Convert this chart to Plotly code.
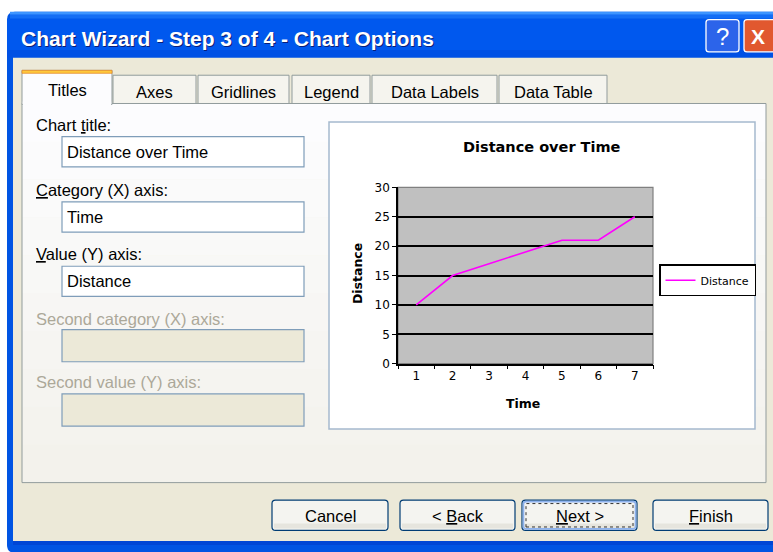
import plotly.graph_objects as go

# ---------------- data ----------------
time_labels = ["1", "2", "3", "4", "5", "6", "7"]
distance = [10, 15, 17, 19, 21, 21, 25]
y_ticks = [0, 5, 10, 15, 20, 25, 30]
series_name = "Distance"
chart_title = "Distance over Time"
x_title = "Time"
y_title = "Distance"

window_title = "Chart Wizard - Step 3 of 4 - Chart Options"
tab_labels = ["Titles", "Axes", "Gridlines", "Legend", "Data Labels", "Data Table"]
field_labels = ["Chart <u>t</u>itle:", "<u>C</u>ategory (X) axis:", "<u>V</u>alue (Y) axis:",
                "Second category (X) axis:", "Second value (Y) axis:"]
field_values = ["Distance over Time", "Time", "Distance", "", ""]
field_enabled = [True, True, True, False, False]
button_labels = ["Cancel", "&lt; <u>B</u>ack", "<u>N</u>ext &gt;", "<u>F</u>inish"]

# ---------------- helpers ----------------
W, H = 773, 552
DLG = "Liberation Sans, Arial, sans-serif"
CHF = "DejaVu Sans, Verdana, sans-serif"
shapes = []
annotations = []


def fx(x):
    return x / W


def fy(y):
    return 1 - y / H


def rect(x0, y0, x1, y1, fill, line=None, lw=1.0, dash=None):
    ln = dict(color=line if line else "rgba(0,0,0,0)", width=lw if line else 0)
    if dash:
        ln["dash"] = dash
    shapes.append(dict(type="rect", xref="paper", yref="paper",
                       x0=fx(x0), x1=fx(x1), y0=fy(y1), y1=fy(y0),
                       fillcolor=fill, line=ln, layer="below"))


def rrect(x0, y0, x1, y1, r, fill, line=None, lw=1.0):
    def p(x, y):
        return f"{fx(x):.6f},{fy(y):.6f}"
    d = (f"M {p(x0 + r, y0)} L {p(x1 - r, y0)} Q {p(x1, y0)} {p(x1, y0 + r)} "
         f"L {p(x1, y1 - r)} Q {p(x1, y1)} {p(x1 - r, y1)} L {p(x0 + r, y1)} "
         f"Q {p(x0, y1)} {p(x0, y1 - r)} L {p(x0, y0 + r)} Q {p(x0, y0)} {p(x0 + r, y0)} Z")
    shapes.append(dict(type="path", xref="paper", yref="paper", path=d,
                       fillcolor=fill,
                       line=dict(color=line if line else "rgba(0,0,0,0)", width=lw if line else 0),
                       layer="below"))


def text(x, y, s, size, color="black", family=DLG, xanchor="left", weight="normal", angle=0):
    annotations.append(dict(xref="paper", yref="paper", x=fx(x), y=fy(y), text=s,
                            showarrow=False, xanchor=xanchor, yanchor="middle",
                            textangle=angle, borderpad=0,
                            font=dict(family=family, size=size, color=color, weight=weight)))


def blend(c0, c1, t):
    return "rgb(%d,%d,%d)" % tuple(round(a + (b - a) * t) for a, b in zip(c0, c1))


# ---------------- window frame ----------------
rrect(7, 5, 790, 560, 8, "#0054E3")
bar = [((61, 149, 255), 5, 8), ((20, 110, 245), 8, 12), ((0, 88, 238), 12, 44), ((0, 80, 228), 44, 52)]
for c, a, b in bar:
    rect(10 if a < 10 else 7, a, 773, b, "rgb(%d,%d,%d)" % c)
rect(13, 52, 773, 548, "#ECE9D8")

text(21, 33, window_title, 21, "#0A1E78", weight="bold")
text(20, 32, window_title, 21, "white", weight="bold")

# help / close buttons
rrect(706, 13, 739, 46, 3, "#2C64EA", "white", 1.3)
text(722.5, 30, "?", 24, "white", xanchor="center")
rrect(744, 13, 778, 46, 3, "#E1582F", "white", 1.3)
text(758, 30, "X", 21, "white", xanchor="center", weight="bold")

# ---------------- tab pane ----------------
n_b = 10
c_top, c_bot = (252, 252, 254), (243, 242, 236)
for i in range(n_b):
    a = 99 + (488 - 99) * i / n_b
    b = 99 + (488 - 99) * (i + 1) / n_b
    rect(22, a, 766, b + 0.5, blend(c_top, c_bot, i / (n_b - 1)))
rect(22, 99, 766, 488, "rgba(0,0,0,0)", "#919B9C", 1)

tab_edges = [(22, 112), (113, 196), (198, 289), (292, 370), (372, 497), (499, 607)]
for i, (lab, (a, b)) in enumerate(zip(tab_labels, tab_edges)):
    if i == 0:
        continue
    rect(a, 70, b, 99, "#F5F4EE", "#919B9C", 1)
    text((a + b) / 2, 87, lab, 16.5, xanchor="center")
a, b = tab_edges[0]
rect(a, 65, b, 100, "#FCFCFE", "#919B9C", 1)
rect(a + 0.8, 97, b - 0.8, 101, "#FCFCFE")
rect(a, 65, b, 68, "#FFC83C", "#E68B2C", 0.8)
text((a + b) / 2, 85, tab_labels[0], 16.5, xanchor="center")

# ---------------- fields ----------------
label_y = [121, 188, 253, 320, 385]
box_y = [(133, 164), (200, 231), (266, 297), (331, 364), (397, 430)]
for lab, val, en, ly, (y0, y1) in zip(field_labels, field_values, field_enabled, label_y, box_y):
    text(35, ly, lab, 16.5, "black" if en else "#ACA899")
    rect(62, y0, 304, y1, "white" if en else "#ECE9D8", "#7F9DB9", 1.2)
    if val:
        text(66, (y0 + y1) / 2, val, 16.5)

# ---------------- chart preview box ----------------
rect(329, 118, 755, 433, "white", "#A5B9CE", 1.5)

PX0, PX1, PY0, PY1 = 398, 653, 185, 366
rect(PX0, PY0, PX1, PY1, "#C0C0C0", "#808080", 1.2)

# ---------------- buttons ----------------
btn_edges = [(272, 388), (400, 515), (522, 637), (653, 768)]
for i, (lab, (a, b)) in enumerate(zip(button_labels, btn_edges)):
    rrect(a, 506, b, 537, 3.5, "#F4F4F0", "#003C74", 1.2)
    rect(a + 2, 530, b - 2, 535, "#E6E5DE")
    if i == 2:
        rrect(a + 1.5, 507.5, b - 1.5, 535.5, 2.5, "rgba(0,0,0,0)", "#8DB2EE", 1.6)
        rect(a + 4, 509.5, b - 4, 533.5, "rgba(0,0,0,0)", "#333333", 1, dash="dot")
    text((a + b) / 2, 522, lab, 16.5, xanchor="center")

rect(7, 548, 773, 552, "#0046D5")
rect(7, 52, 13, 552, "#0054E3")

# ---------------- chart ----------------
fig = go.Figure()
fig.add_trace(go.Scatter(x=time_labels, y=distance, mode="lines", name=series_name,
                         line=dict(color="#FF00FF", width=1.6)))

text(542, 144, chart_title, 14.5, family=CHF, xanchor="center", weight="bold")
text(357, 274, y_title, 12.5, family=CHF, xanchor="center", weight="bold", angle=-90)
text(523, 407, x_title, 12.5, family=CHF, xanchor="center", weight="bold")

fig.update_layout(
    width=W, height=H,
    margin=dict(l=0, r=0, t=0, b=0),
    paper_bgcolor="white",
    plot_bgcolor="#C0C0C0",
    shapes=shapes,
    annotations=annotations,
    showlegend=True,
    legend=dict(x=fx(659), y=fy(264), xanchor="left", yanchor="top",
                bgcolor="white", bordercolor="black", borderwidth=1.5,
                font=dict(family=CHF, size=11, color="black"),
                itemwidth=30, tracegroupgap=0),
    xaxis=dict(domain=[fx(PX0), fx(PX1)], type="category", range=[-0.5, 6.5],
               tickson="boundaries", ticks="outside", ticklen=4, tickcolor="black",
               tickwidth=1.2, showline=True, linecolor="black", linewidth=1.5,
               showgrid=False, zeroline=False,
               tickfont=dict(family=CHF, size=12, color="black")),
    yaxis=dict(domain=[fy(PY1), fy(PY0)], range=[0, 30], tickvals=y_ticks,
               ticks="outside", ticklen=4, tickcolor="black", tickwidth=1.2,
               showline=True, linecolor="black", linewidth=1.5,
               showgrid=True, gridcolor="black", gridwidth=1.5, zeroline=False,
               tickfont=dict(family=CHF, size=12, color="black")),
)

fig.write_html("out.html", config={"displayModeBar": False},
               post_script="document.body.style.margin='0';document.body.style.overflow='hidden';")
